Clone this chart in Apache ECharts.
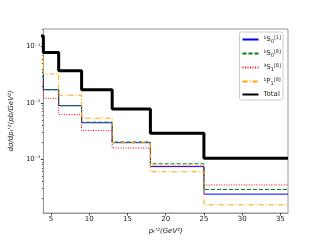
<!DOCTYPE html>
<html><head><meta charset="utf-8">
<script src="https://cdn.jsdelivr.net/npm/echarts@6/dist/echarts.min.js"></script>
<style>html,body{margin:0;padding:0;background:#fff}#c{width:320px;height:240px}</style>
</head><body><div id="c"></div>
<script>
// bin edges (GeV^2); the first bin 2-4 lies left of the visible range
const binEdges = [2, 4, 6, 9, 13, 18, 25, 36];
const s1S0_1 = [0.035, 0.0172, 0.00895, 0.00445, 0.00197, 0.00074, 0.00024];
const s1S0_8 = [0.035, 0.0172, 0.00895, 0.00455, 0.00203, 0.00083, 0.00029];
const s3S1_8 = [0.025, 0.0121, 0.0062, 0.00323, 0.00158, 0.00076, 0.00035];
const s1P1_8 = [0.07, 0.0327, 0.0137, 0.00535, 0.00197, 0.00060, 0.000155];
const total  = [0.155, 0.079, 0.0375, 0.0172, 0.0078, 0.0029, 0.00104];
const xTicks = [5, 10, 15, 20, 25, 30, 35];
const yTicks = [0.001, 0.01, 0.1];
const seriesNames = ['1S0_1', '1S0_8', '3S1_8', '1P1_8', 'Total'];

const yMin = 1.11e-4, yMax = 0.206;
const yMinor = [];
for (let k = -4; k <= -1; k++) for (let m = 2; m <= 9; m++) {
  const v = m * Math.pow(10, k);
  if (v >= yMin && v <= yMax) yMinor.push(v);
}
function steps(v) {
  const d = v.map((y, i) => [binEdges[i], y]);
  d.push([binEdges[binEdges.length - 1], v[v.length - 1]]);
  return d;
}
const supMap = {'-':'\u207b','1':'\u00b9','2':'\u00b2','3':'\u00b3','4':'\u2074'};
const legendText = {
  '1S0_1': '{a|\u00b9S}{b|0}{c|[1]}',
  '1S0_8': '{a|\u00b9S}{b|0}{c|[8]}',
  '3S1_8': '{a|\u00b3S}{b|1}{c|[8]}',
  '1P1_8': '{a|\u00b9P}{b|1}{c|[8]}',
  'Total': '{a|Total}'
};
const chart = echarts.init(document.getElementById('c'), null, {renderer: 'canvas'});
const axisGrey = '#999';
function mk(name, data, color, type, width) {
  return {
    name: name, type: 'line', step: 'end', data: steps(data), symbol: 'none',
    clip: true, animation: false,
    lineStyle: {color: color, type: type, width: width},
    itemStyle: {color: color}
  };
}
chart.setOption({
  animation: false,
  grid: {left: 40, right: 32, top: 29, bottom: 27, show: true, borderColor: axisGrey, borderWidth: 1},
  legend: {
    orient: 'vertical', right: 37, top: 32, itemWidth: 16, itemHeight: 6, itemGap: 5,
    padding: [3, 2, 2, 2], borderColor: '#ccc', borderWidth: 1, borderRadius: 2,
    data: seriesNames,
    itemStyle: {opacity: 0},
    formatter: n => legendText[n],
    textStyle: {
      fontFamily: 'DejaVu Sans', fontSize: 7, color: '#222',
      rich: {
        a: {fontSize: 7, fontFamily: 'DejaVu Sans', color: '#222'},
        b: {fontSize: 5, fontFamily: 'DejaVu Sans', color: '#222', verticalAlign: 'bottom', padding: [4, 0, 0, 0]},
        c: {fontSize: 5, fontFamily: 'DejaVu Sans', color: '#222', verticalAlign: 'top', padding: [0, 0, 4, 0]}
      }
    }
  },
  xAxis: {
    type: 'value', min: 4, max: 36,
    name: "p\u209c'\u00b2(GeV\u00b2)", nameLocation: 'middle', nameGap: 14,
    nameTextStyle: {fontFamily: 'DejaVu Sans', fontStyle: 'italic', fontSize: 7, color: '#222'},
    axisLine: {show: true, lineStyle: {color: axisGrey, width: 1}},
    axisTick: {show: true, customValues: xTicks, length: 2.5, lineStyle: {color: '#444'}},
    axisLabel: {customValues: xTicks, fontFamily: 'DejaVu Sans', fontSize: 7, color: '#222', margin: 3},
    splitLine: {show: false}
  },
  yAxis: [{
    type: 'log', logBase: 10, min: yMin, max: yMax,
    name: "d\u03c3/dp\u209c'\u00b2(pb/GeV\u00b2)", nameLocation: 'middle', nameGap: 27,
    nameTextStyle: {fontFamily: 'DejaVu Sans', fontStyle: 'italic', fontSize: 7, color: '#222'},
    axisLine: {show: true, lineStyle: {color: axisGrey, width: 1}},
    axisTick: {show: true, customValues: yTicks, length: 2.5, lineStyle: {color: '#444'}},
    axisLabel: {
      customValues: yTicks, margin: 3,
      formatter: v => {
        const e = String(Math.round(Math.log10(v)));
        return '{b|10}{s|' + e.split('').map(ch => supMap[ch]).join('') + '}';
      },
      rich: {
        b: {fontFamily: 'DejaVu Sans', fontSize: 7, color: '#222'},
        s: {fontFamily: 'DejaVu Sans', fontSize: 6, color: '#222', verticalAlign: 'top'}
      }
    },
    splitLine: {show: false}
  }, {
    type: 'log', logBase: 10, min: yMin, max: yMax, position: 'left',
    axisLine: {show: false},
    axisTick: {show: true, customValues: yMinor, length: 1.5, lineStyle: {color: '#666'}},
    axisLabel: {show: false},
    splitLine: {show: false}
  }],
  series: [
    mk('1S0_1', s1S0_1, '#0000ff', 'solid', 1),
    mk('1S0_8', s1S0_8, '#008000', [4, 2], 1),
    mk('3S1_8', s3S1_8, '#ff0000', [1, 1.5], 1),
    mk('1P1_8', s1P1_8, '#ffa500', [5, 2, 1, 2], 1),
    mk('Total', total, '#000000', 'solid', 3)
  ]
});
</script></body></html>
